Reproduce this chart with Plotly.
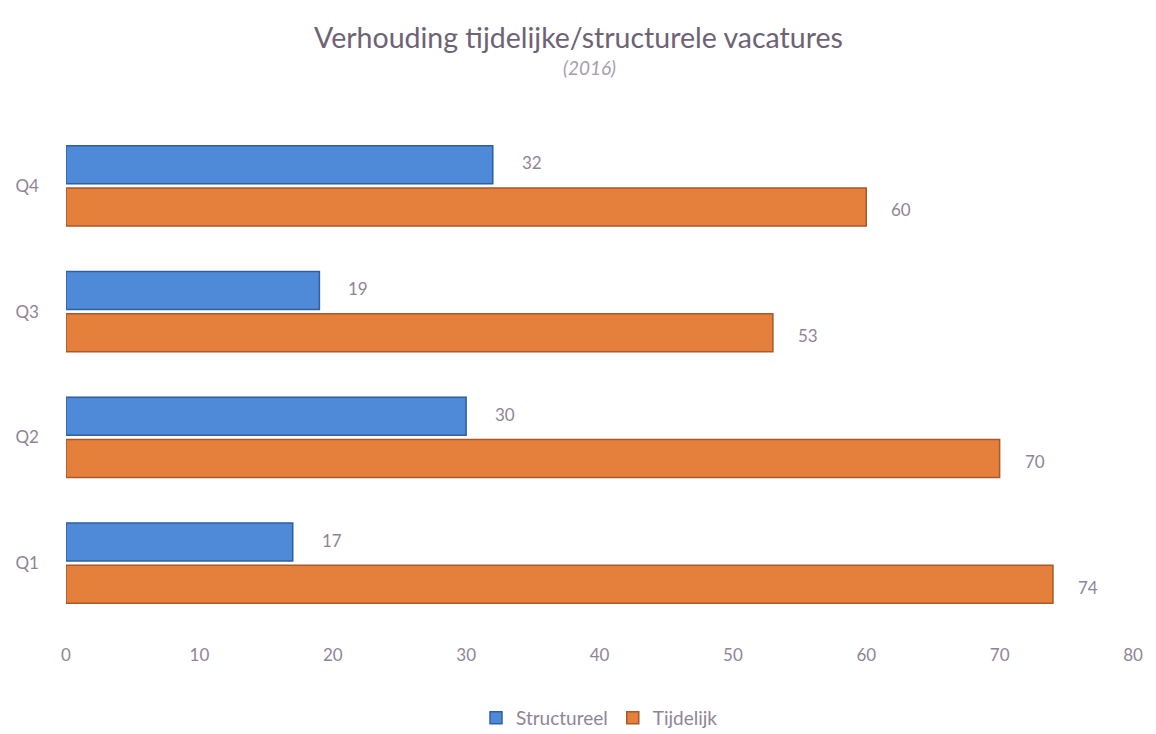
import plotly.graph_objects as go

quarters = ["Q1", "Q2", "Q3", "Q4"]
structureel = [17, 30, 19, 32]
tijdelijk = [74, 70, 53, 60]
x_ticks = [0, 10, 20, 30, 40, 50, 60, 70, 80]

BLUE = "#4f8ad9"
BLUE_EDGE = "#2f5f9e"
ORANGE = "#e47f3c"
ORANGE_EDGE = "#a9582a"
TEXT = "#8f8496"
FONT = "Lato"

fig = go.Figure()

# Tijdelijk first so that, in a horizontal group, Structureel sits above it
fig.add_trace(go.Bar(
    y=quarters, x=tijdelijk, orientation="h", name="Tijdelijk",
    marker=dict(color=ORANGE, line=dict(color=ORANGE_EDGE, width=1.5)),
    offsetgroup="t",
))
fig.add_trace(go.Bar(
    y=quarters, x=structureel, orientation="h", name="Structureel",
    marker=dict(color=BLUE, line=dict(color=BLUE_EDGE, width=1.5)),
    offsetgroup="s",
))

# value callouts to the right of each bar
for q, v in zip(quarters, structureel):
    fig.add_annotation(
        x=v, y=q, text=str(v), showarrow=False, xanchor="center",
        xshift=39, yshift=23, font=dict(family=FONT, size=17, color=TEXT),
        bgcolor="white", borderpad=8,
    )
for q, v in zip(quarters, tijdelijk):
    fig.add_annotation(
        x=v, y=q, text=str(v), showarrow=False, xanchor="center",
        xshift=35, yshift=-24, font=dict(family=FONT, size=17, color=TEXT),
        bgcolor="white", borderpad=8,
    )

# title and subtitle
fig.add_annotation(
    text="Verhouding tijdelijke/structurele vacatures", xref="paper", yref="paper",
    x=0.5, y=1.0, yanchor="middle", xanchor="center", showarrow=False,
    xshift=-21, yshift=86, font=dict(family=FONT, size=28.5, color="#6e6275"),
)
fig.add_annotation(
    text="<i>(2016)</i>", xref="paper", yref="paper",
    x=0.5, y=1.0, yanchor="middle", xanchor="center", showarrow=False,
    xshift=-10, yshift=56, font=dict(family=FONT, size=19, color="#a79dac"),
)

fig.update_layout(
    width=1156, height=734,
    paper_bgcolor="white", plot_bgcolor="white",
    margin=dict(l=66, r=23, t=123, b=108, autoexpand=False),
    barmode="group", bargap=0.33, bargroupgap=0.1,
    font=dict(family=FONT, color=TEXT),
    showlegend=True,
    legend=dict(
        orientation="h", x=0.5, xanchor="center",
        yref="container", y=0.022, yanchor="middle",
        traceorder="reversed", font=dict(family=FONT, size=19, color=TEXT),
    ),
    xaxis=dict(
        range=[0, 80], tickvals=x_ticks, showgrid=False, zeroline=False,
        showline=False, ticks="", tickfont=dict(family=FONT, size=17, color=TEXT),
        ticklabelstandoff=17, automargin=False,
    ),
    yaxis=dict(
        showgrid=False, zeroline=False, showline=False, ticks="",
        tickfont=dict(family=FONT, size=17, color=TEXT), ticklabelstandoff=26,
        automargin=False,
    ),
)

fig.write_html("out.html")
